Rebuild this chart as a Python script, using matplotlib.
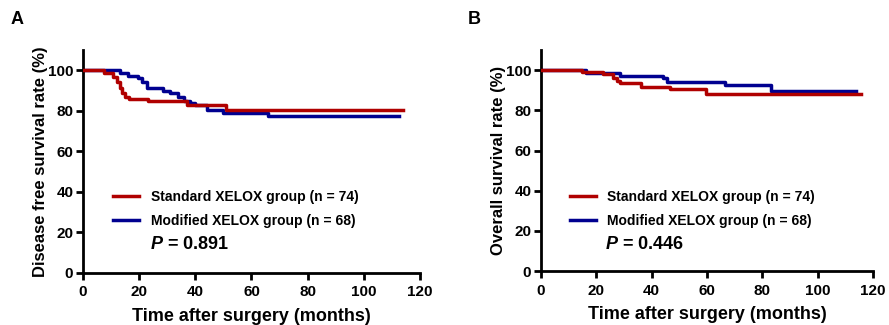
import matplotlib
matplotlib.use("Agg")
import matplotlib.pyplot as plt

plt.rcParams['font.family'] = ['Liberation Sans', 'DejaVu Sans']
plt.rcParams['font.weight'] = 'bold'
plt.rcParams['mathtext.fontset'] = 'custom'
plt.rcParams['mathtext.rm'] = 'Liberation Sans:bold'
plt.rcParams['mathtext.bf'] = 'Liberation Sans:bold'
plt.rcParams['mathtext.bfit'] = 'Liberation Sans:italic:bold'

RED = '#B00000'
BLUE = '#000090'

# Disease free survival (panel A)
dfs_std_t = [0, 7.5, 10.7, 12, 13, 14, 15, 16.5, 23, 37, 51, 114]
dfs_std_r = [100, 98.6, 96.5, 94, 91.5, 89, 87, 86, 84.7, 82.7, 80.3, 80.3]
dfs_mod_t = [0, 13.2, 16, 19.5, 21, 22.7, 28.5, 31, 34, 36, 38, 40, 44, 50, 66, 112.5]
dfs_mod_r = [100, 98.8, 97.2, 96, 94, 91.5, 90, 89, 87, 85, 84, 82.7, 80.3, 79, 77.4, 77.4]

# Overall survival (panel B)
os_std_t = [0, 14.7, 22.5, 26, 27.4, 28.6, 36.3, 46.6, 59.8, 115.5]
os_std_r = [100, 99, 97.9, 96.2, 94.5, 93.4, 91.7, 90.4, 87.9, 87.9]
os_mod_t = [0, 16.2, 28.5, 44, 45.4, 66.4, 83, 113.7]
os_mod_r = [100, 98.8, 97.3, 96.2, 94.2, 92.5, 89.7, 89.7]

labels = ['Standard XELOX group (n = 74)', 'Modified XELOX group (n = 68)']
x_ticks = [0, 20, 40, 60, 80, 100, 120]
y_ticks = [0, 20, 40, 60, 80, 100]

fig = plt.figure(figsize=(8.89, 3.25), dpi=100)
axA = fig.add_axes([0.0934, 0.160, 0.379, 0.686])
axB = fig.add_axes([0.6086, 0.166, 0.3734, 0.680])

panels = [
    (axA, dfs_std_t, dfs_std_r, dfs_mod_t, dfs_mod_r, 'Disease free survival rate (%)', '0.891', (0.089, 0.374), (0.199, 0.126)),
    (axB, os_std_t, os_std_r, os_mod_t, os_mod_r, 'Overall survival rate (%)', '0.446', (0.087, 0.368), (0.193, 0.118)),
]

for ax, st, sr, mt, mr, ylabel, pval, leg_pos, p_pos in panels:
    ax.step(st, sr, where='post', color=RED, lw=2.5, label=labels[0], zorder=3)
    ax.step(mt, mr, where='post', color=BLUE, lw=2.5, label=labels[1], zorder=2)
    ax.set_xlim(0, 120)
    ax.set_ylim(0, 110)
    ax.set_xticks(x_ticks)
    ax.set_yticks(y_ticks)
    ax.spines['top'].set_visible(False)
    ax.spines['right'].set_visible(False)
    for s in ['left', 'bottom']:
        ax.spines[s].set_linewidth(2)
    ax.tick_params(width=2, length=5, labelsize=11, pad=2)
    ax.tick_params(axis='x', pad=4)
    for lab in ax.get_xticklabels() + ax.get_yticklabels():
        lab.set_fontweight('bold')
    ax.set_xlabel('Time after surgery (months)', fontsize=13, fontweight='bold', labelpad=6)
    ax.set_ylabel(ylabel, fontsize=12, fontweight='bold', labelpad=0)
    ax.legend(loc='upper left', bbox_to_anchor=leg_pos, frameon=False,
              handlelength=1.9, handletextpad=0.8, labelspacing=0.75,
              borderpad=0, borderaxespad=0, prop={'weight': 'bold', 'size': 10})
    ax.text(p_pos[0], p_pos[1], r'$\mathbfit{P}$ = ' + pval, transform=ax.transAxes,
            fontsize=13, fontweight='bold', va='center', ha='left')

fig.text(17 / 889, 1 - 19 / 325, 'A', fontsize=13, fontweight='bold', ha='center', va='center')
fig.text(474 / 889, 1 - 19 / 325, 'B', fontsize=13, fontweight='bold', ha='center', va='center')

fig.savefig('out.png', dpi=100)
